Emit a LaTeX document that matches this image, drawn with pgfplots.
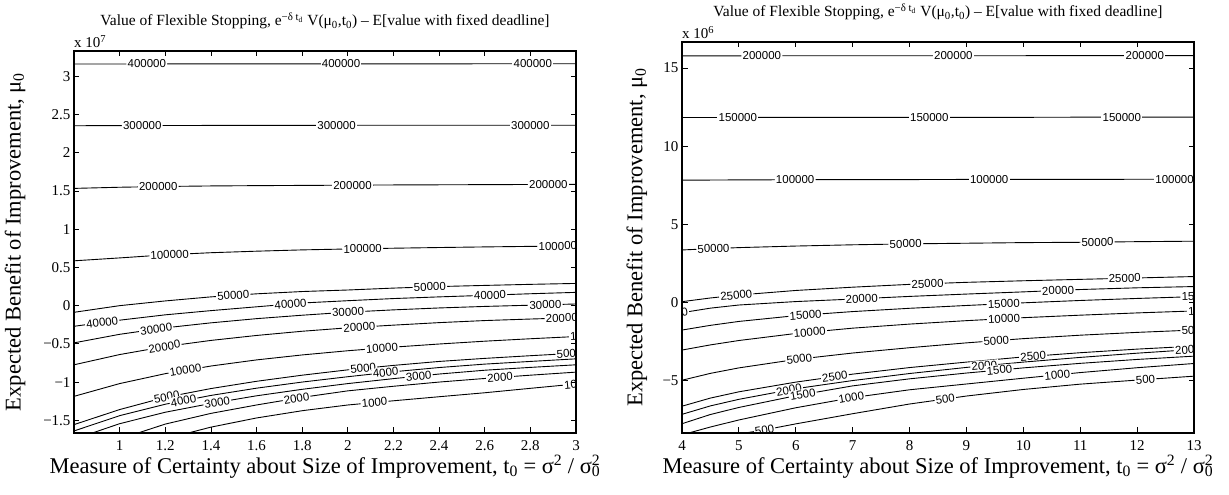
\documentclass[border=0pt]{standalone}
\usepackage{fontspec}
\setmainfont{Liberation Serif}
\newfontfamily\clfont{Liberation Sans}
\usepackage{pgfplots}
\pgfplotsset{compat=1.18}

\pgfplotsset{
  panel/.style={
    scale only axis, anchor=south west,
    axis on top,
    axis line style={line width=1.1pt},
    tick align=inside, major tick length=5.5pt,
    every tick/.style={black, line width=0.8pt},
    ticklabel style={font=\fontsize{15}{15}\selectfont},
    xticklabel style={yshift=-4pt},
    /pgf/number format/assume math mode=true,
    scaled ticks=false,
    xlabel style={font=\fontsize{22.5}{25}\selectfont, at={(axis description cs:0.5,0)},
      anchor=north, inner sep=0pt, yshift=-22pt},
    ylabel style={font=\fontsize{22.5}{25}\selectfont, anchor=center, inner sep=0pt},
    title style={font=\fontsize{15.5}{17}\selectfont, at={(axis description cs:0.5,1)},
      anchor=base, inner sep=0pt, yshift=19pt},
    xlabel={Measure of Certainty about Size of Improvement, t\textsubscript{0} = σ\textsuperscript{2} / σ\rlap{\textsuperscript{2}}\textsubscript{0}},
    ylabel={Expected Benefit of Improvement, μ\textsubscript{0}},
    title={Value of Flexible Stopping, e\textsuperscript{−δ t\textsubscript{d}} V(μ\textsubscript{0},t\textsubscript{0}) – E[value with fixed deadline]},
  },
  cl/.style={black, line width=0.9pt},
}
\tikzset{
  lab/.style={sloped, fill=white, inner sep=1.2pt, text=black,
    font=\clfont\fontsize{11.5}{11.5}\selectfont},
}

\begin{document}
\begin{tikzpicture}
\path[use as bounding box] (0,0) rectangle (1229pt,495pt);

% left panel, mu_0 in units of 1e7
\begin{axis}[panel, at={(74pt,62pt)}, width=502pt, height=382pt,
  xmin=0.8, xmax=3, ymin=-1.6667, ymax=3.3333,
  xtick={1,1.2,1.4,1.6,1.8,2,2.2,2.4,2.6,2.8,3},
  ytick={-1.5,-1,-0.5,0,0.5,1,1.5,2,2.5,3},
  yticklabels={−1.5,−1,−0.5,0,0.5,1,1.5,2,2.5,3},
  ylabel style={at={(axis description cs:-0.1175,0.5)}},
  extra description/.code={\node[anchor=south west, inner sep=0pt, yshift=3pt,
    font=\fontsize{15}{15}\selectfont] at (axis description cs:0,1) {x 10\textsuperscript{7}};}]

\addplot[cl] coordinates {(0.8,3.163) (1.0,3.163) (1.2,3.164) (1.4,3.164) (1.6,3.164) (1.8,3.165) (2.0,3.165) (2.2,3.165) (2.4,3.165) (2.6,3.166) (2.8,3.166) (3.0,3.166)}
  node[lab,pos=0.145]{400000} node[lab,pos=0.532]{400000} node[lab,pos=0.914]{400000};
\addplot[cl] coordinates {(0.8,2.355) (1.0,2.357) (1.2,2.358) (1.4,2.359) (1.6,2.36) (1.8,2.36) (2.0,2.361) (2.2,2.361) (2.4,2.361) (2.6,2.362) (2.8,2.362) (3.0,2.362)}
  node[lab,pos=0.136]{300000} node[lab,pos=0.523]{300000} node[lab,pos=0.909]{300000};
\addplot[cl] coordinates {(0.8,1.535) (1.0,1.550) (1.2,1.560) (1.4,1.567) (1.6,1.571) (1.8,1.574) (2.0,1.577) (2.2,1.580) (2.4,1.582) (2.6,1.584) (2.8,1.586) (3.0,1.587)}
  node[lab,pos=0.168]{200000} node[lab,pos=0.555]{200000} node[lab,pos=0.945]{200000};
\addplot[cl] coordinates {(0.8,0.587) (1.0,0.625) (1.2,0.665) (1.4,0.693) (1.6,0.713) (1.8,0.730) (2.0,0.742) (2.2,0.752) (2.4,0.761) (2.6,0.769) (2.8,0.776) (3.0,0.783)}
  node[lab,pos=0.193]{100000} node[lab,pos=0.577]{100000} node[lab,pos=0.964]{100000};
\addplot[cl] coordinates {(0.8,-0.087) (1.0,0.0) (1.2,0.062) (1.4,0.115) (1.6,0.155) (1.8,0.185) (2.0,0.205) (2.2,0.23) (2.4,0.25) (2.6,0.265) (2.8,0.279) (3.0,0.291)}
  node[lab,pos=0.327]{50000} node[lab,pos=0.714]{50000};
\addplot[cl] coordinates {(0.8,-0.27) (1.0,-0.19) (1.2,-0.12) (1.4,-0.065) (1.6,-0.015) (1.8,0.035) (2.0,0.065) (2.2,0.093) (2.4,0.115) (2.6,0.135) (2.8,0.156) (3.0,0.174)}
  node[lab,pos=0.059]{40000} node[lab,pos=0.441]{40000} node[lab,pos=0.832]{40000};
\addplot[cl] coordinates {(0.8,-0.487) (1.0,-0.375) (1.2,-0.29) (1.4,-0.225) (1.6,-0.17) (1.8,-0.125) (2.0,-0.085) (2.2,-0.055) (2.4,-0.03) (2.6,-0.01) (2.8,0.006) (3.0,0.022)}
  node[lab,pos=0.177]{30000} node[lab,pos=0.559]{30000} node[lab,pos=0.941]{30000};
\addplot[cl] coordinates {(0.8,-0.774) (1.0,-0.64) (1.2,-0.535) (1.4,-0.455) (1.6,-0.39) (1.8,-0.335) (2.0,-0.29) (2.2,-0.255) (2.4,-0.222) (2.6,-0.195) (2.8,-0.175) (3.0,-0.157)}
  node[lab,pos=0.2]{20000} node[lab,pos=0.586]{20000} node[lab,pos=0.973]{20000};
\addplot[cl] coordinates {(0.8,-1.187) (1.0,-1.02) (1.2,-0.89) (1.4,-0.79) (1.6,-0.71) (1.8,-0.645) (2.0,-0.59) (2.2,-0.543) (2.4,-0.502) (2.6,-0.465) (2.8,-0.433) (3.0,-0.404)}
  node[lab,pos=0.252]{10000} node[lab,pos=0.636]{10000} node[lab,pos=1,anchor=west,xshift=-7.5pt]{10000};
\addplot[cl] coordinates {(0.8,-1.557) (1.0,-1.36) (1.2,-1.2) (1.4,-1.085) (1.6,-0.99) (1.8,-0.91) (2.0,-0.84) (2.2,-0.782) (2.4,-0.73) (2.6,-0.69) (2.8,-0.655) (3.0,-0.622)}
  node[lab,pos=0.223]{5000} node[lab,pos=0.609]{5000} node[lab,pos=1,anchor=west,xshift=-21pt]{5000};
\addplot[cl] coordinates {(0.8,-1.64) (1.0,-1.44) (1.2,-1.29) (1.4,-1.175) (1.6,-1.08) (1.8,-1.0) (2.0,-0.93) (2.2,-0.865) (2.4,-0.81) (2.6,-0.765) (2.8,-0.73) (3.0,-0.696)}
  node[lab,pos=0.256]{4000} node[lab,pos=0.65]{4000};
\addplot[cl] coordinates {(0.88,-1.667) (1.0,-1.545) (1.2,-1.395) (1.4,-1.28) (1.6,-1.18) (1.8,-1.095) (2.0,-1.02) (2.2,-0.955) (2.4,-0.895) (2.6,-0.845) (2.8,-0.808) (3.0,-0.774)}
  node[lab,pos=0.292]{3000} node[lab,pos=0.698]{3000};
\addplot[cl] coordinates {(1.08,-1.667) (1.2,-1.55) (1.4,-1.41) (1.6,-1.30) (1.8,-1.20) (2.0,-1.115) (2.2,-1.055) (2.4,-1.0) (2.6,-0.953) (2.8,-0.91) (3.0,-0.87)}
  node[lab,pos=0.396]{2000} node[lab,pos=0.839]{2000};
\addplot[cl] coordinates {(1.3,-1.667) (1.4,-1.59) (1.6,-1.47) (1.8,-1.375) (2.0,-1.30) (2.2,-1.245) (2.4,-1.192) (2.6,-1.14) (2.8,-1.082) (3.0,-1.025)}
  node[lab,pos=0.5]{1000} node[lab,pos=1,anchor=west,xshift=-13.5pt]{1000};
\end{axis}

% right panel, mu_0 in units of 1e6
\begin{axis}[panel, at={(682pt,62pt)}, width=512pt, height=391pt,
  xmin=4, xmax=13, ymin=-8.3333, ymax=16.6667,
  xtick={4,5,6,7,8,9,10,11,12,13},
  ytick={-5,0,5,10,15},
  yticklabels={−5,0,5,10,15},
  ylabel style={at={(axis description cs:-0.088,0.5)}},
  extra description/.code={\node[anchor=south west, inner sep=0pt, yshift=3pt,
    font=\fontsize{15}{15}\selectfont] at (axis description cs:0,1) {x 10\textsuperscript{6}};}]

\addplot[cl] coordinates {(4,15.78) (5,15.78) (6,15.79) (7,15.79) (8,15.79) (9,15.79) (10,15.79) (11,15.8) (12,15.8) (13,15.8)}
  node[lab,pos=0.156]{200000} node[lab,pos=0.530]{200000} node[lab,pos=0.904]{200000};
\addplot[cl] coordinates {(4,11.84) (5,11.84) (6,11.85) (7,11.85) (8,11.85) (9,11.85) (10,11.85) (11,11.86) (12,11.86) (13,11.86)}
  node[lab,pos=0.109]{150000} node[lab,pos=0.483]{150000} node[lab,pos=0.859]{150000};
\addplot[cl] coordinates {(4,7.83) (5,7.85) (6,7.86) (7,7.87) (8,7.87) (9,7.88) (10,7.88) (11,7.88) (12,7.89) (13,7.89)}
  node[lab,pos=0.221]{100000} node[lab,pos=0.6]{100000} node[lab,pos=0.962]{100000};
\addplot[cl] coordinates {(4,3.37) (4.5,3.45) (5,3.52) (6,3.62) (7,3.70) (8,3.76) (9,3.80) (10,3.84) (11,3.86) (12,3.90) (13,3.93)}
  node[lab,pos=0.062]{50000} node[lab,pos=0.438]{50000} node[lab,pos=0.812]{50000};
\addplot[cl] coordinates {(4,0.064) (4.5,0.30) (5,0.49) (6,0.78) (7,0.99) (8,1.17) (9,1.30) (10,1.40) (11,1.49) (12,1.58) (13,1.67)}
  node[lab,pos=0.113]{25000} node[lab,pos=0.488]{25000} node[lab,pos=0.867]{25000};
\addplot[cl] coordinates {(4,-0.64) (4.5,-0.35) (5,-0.15) (6,0.07) (7,0.23) (8,0.40) (9,0.55) (10,0.69) (11,0.84) (12,0.95) (13,1.03)}
  node[lab,pos=0,anchor=east,xshift=7.5pt]{20000} node[lab,pos=0.36]{20000} node[lab,pos=0.739]{20000};
\addplot[cl] coordinates {(4,-1.75) (4.5,-1.45) (5,-1.2) (6,-0.83) (7,-0.57) (8,-0.36) (9,-0.18) (10,-0.01) (11,0.14) (12,0.27) (13,0.385)}
  node[lab,pos=0.256]{15000} node[lab,pos=0.638]{15000} node[lab,pos=1,anchor=west,xshift=-14pt]{15000};
\addplot[cl] coordinates {(4,-3.03) (4.5,-2.7) (5,-2.42) (6,-1.97) (7,-1.63) (8,-1.37) (9,-1.15) (10,-0.96) (11,-0.8) (12,-0.655) (13,-0.53)}
  node[lab,pos=0.268]{10000} node[lab,pos=0.642]{10000} node[lab,pos=1,anchor=west,xshift=-7.5pt]{10000};
\addplot[cl] coordinates {(4,-4.96) (4.5,-4.52) (5,-4.17) (6,-3.63) (7,-3.22) (8,-2.88) (9,-2.57) (10,-2.3) (11,-2.08) (12,-1.9) (13,-1.75)}
  node[lab,pos=0.256]{5000} node[lab,pos=0.634]{5000} node[lab,pos=1,anchor=west,xshift=-14pt]{5000};
\addplot[cl] coordinates {(4,-6.62) (4.5,-6.1) (5,-5.7) (6,-5.08) (7,-4.57) (8,-4.15) (9,-3.8) (10,-3.47) (11,-3.2) (12,-2.97) (13,-2.78)}
  node[lab,pos=0.333]{2500} node[lab,pos=0.708]{2500};
\addplot[cl] coordinates {(4,-7.14) (4.5,-6.6) (5,-6.18) (6,-5.5) (7,-4.98) (8,-4.53) (9,-4.14) (10,-3.8) (11,-3.5) (12,-3.23) (13,-2.99)}
  node[lab,pos=0.244]{2000} node[lab,pos=0.619]{2000} node[lab,pos=1,anchor=west,xshift=-20.5pt]{2000};
\addplot[cl] coordinates {(4,-7.74) (4.5,-7.15) (5,-6.7) (6,-5.95) (7,-5.32) (8,-4.87) (9,-4.5) (10,-4.17) (11,-3.88) (12,-3.63) (13,-3.42)}
  node[lab,pos=0.279]{1500} node[lab,pos=0.653]{1500};
\addplot[cl] coordinates {(4.05,-8.4) (4.5,-7.95) (5,-7.5) (6,-6.72) (7,-6.07) (8,-5.57) (9,-5.2) (10,-4.83) (11,-4.47) (12,-4.16) (13,-3.89)}
  node[lab,pos=0.368]{1000} node[lab,pos=0.753]{1000};
\addplot[cl] coordinates {(5,-8.4) (5.47,-8.12) (6,-7.75) (7,-7.1) (8,-6.48) (9,-5.97) (10,-5.55) (11,-5.21) (12,-4.95) (13,-4.7)}
  node[lab,pos=0.059]{500} node[lab,pos=0.48]{500} node[lab,pos=0.901]{500};
\end{axis}
\end{tikzpicture}
\end{document}
